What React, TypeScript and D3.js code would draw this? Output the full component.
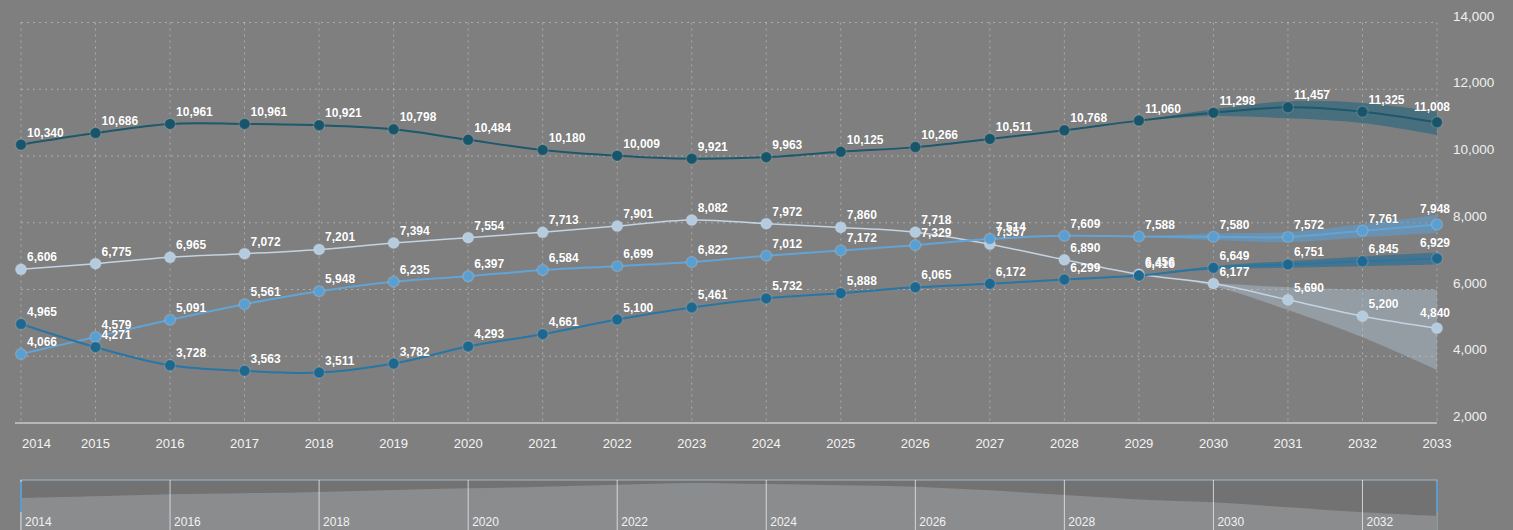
import React from "react";
import * as d3 from "d3";

const years = [2014, 2015, 2016, 2017, 2018, 2019, 2020, 2021, 2022, 2023, 2024, 2025, 2026, 2027, 2028, 2029, 2030, 2031, 2032, 2033];
const seriesA = [10340, 10686, 10961, 10961, 10921, 10798, 10484, 10180, 10009, 9921, 9963, 10125, 10266, 10511, 10768, 11060, 11298, 11457, 11325, 11008];
const seriesB = [6606, 6775, 6965, 7072, 7201, 7394, 7554, 7713, 7901, 8082, 7972, 7860, 7718, 7357, 6890, 6456, 6177, 5690, 5200, 4840];
const seriesC = [4066, 4579, 5091, 5561, 5948, 6235, 6397, 6584, 6699, 6822, 7012, 7172, 7329, 7514, 7609, 7588, 7580, 7572, 7761, 7948];
const seriesD = [4965, 4271, 3728, 3563, 3511, 3782, 4293, 4661, 5100, 5461, 5732, 5888, 6065, 6172, 6299, 6416, 6649, 6751, 6845, 6929];

const bandYears = [2029, 2030, 2031, 2032, 2033];
const bandALow = [11060, 11200, 11130, 10990, 10630];
const bandAHigh = [11060, 11400, 11640, 11590, 11330];
const bandBLow = [6456, 6100, 5385, 4570, 3590];
const bandBHigh = [6456, 6200, 6070, 6000, 5990];
const bandCLow = [7588, 7480, 7420, 7560, 7690];
const bandCHigh = [7588, 7680, 7720, 7960, 8230];
const bandDLow = [6416, 6600, 6650, 6700, 6750];
const bandDHigh = [6416, 6700, 6850, 6990, 7110];

const yTicks = [2000, 4000, 6000, 8000, 10000, 12000, 14000];
const navYears = [2014, 2016, 2018, 2020, 2022, 2024, 2026, 2028, 2030, 2032];

const W = 1513;
const H = 530;

export default function App() {
  const x = d3.scaleLinear().domain([2014, 2033]).range([21, 1437]);
  const y = d3.scaleLinear().domain([2000, 14000]).range([423, 22.5]);
  const navY = d3.scaleLinear().domain([0, 8082]).range([565, 483]);
  const fmt = d3.format(",");

  const line = d3
    .line<[number, number]>()
    .x((d) => x(d[0]))
    .y((d) => y(d[1]))
    .curve(d3.curveCatmullRom.alpha(0.5));

  const band = d3
    .area<[number, number, number]>()
    .x((d) => x(d[0]))
    .y0((d) => y(d[1]))
    .y1((d) => y(d[2]))
    .curve(d3.curveCatmullRom.alpha(0.5));

  const navArea = d3
    .area<[number, number]>()
    .x((d) => x(d[0]))
    .y0(() => H + 10)
    .y1((d) => navY(d[1]))
    .curve(d3.curveCatmullRom.alpha(0.5));

  const series = [
    { name: "B", values: seriesB, line: "#c3d3e2", point: "#b4cbe0", width: 1.5, low: bandBLow, high: bandBHigh, band: "rgba(185,208,230,0.36)" },
    { name: "C", values: seriesC, line: "#62a4d6", point: "#5a9fd2", width: 2, low: bandCLow, high: bandCHigh, band: "rgba(90,160,215,0.55)" },
    { name: "D", values: seriesD, line: "#2776a5", point: "#1e6890", width: 2, low: bandDLow, high: bandDHigh, band: "rgba(30,105,150,0.55)" },
    { name: "A", values: seriesA, line: "#1d586c", point: "#18546a", width: 2, low: bandALow, high: bandAHigh, band: "rgba(35,100,125,0.6)" },
  ];

  const labelFont = "'Liberation Sans', Arial, sans-serif";
  const last = years.length - 1;

  return (
    <svg
      width={W}
      height={H}
      style={{ position: "absolute", left: 0, top: 0, background: "#7f7f7f", display: "block" }}
    >
      <rect x={0} y={0} width={W} height={H} fill="#7f7f7f" />
      {/* grid */}
      <g stroke="rgba(255,255,255,0.36)" strokeWidth={1} strokeDasharray="2,4">
        {years.map((yr) => (
          <line key={"vx" + yr} x1={x(yr)} x2={x(yr)} y1={y(14000)} y2={y(2000)} />
        ))}
        {yTicks.slice(1).map((t) => (
          <line key={"hy" + t} x1={x(2014)} x2={x(2033)} y1={y(t)} y2={y(t)} />
        ))}
      </g>
      <line x1={15} x2={x(2033)} y1={y(2000)} y2={y(2000)} stroke="rgba(235,235,235,0.7)" strokeWidth={1.5} />

      {/* y axis labels */}
      {yTicks.map((t) => (
        <text
          key={"yl" + t}
          x={1453}
          y={y(t) - 2}
          fill="#f0f0f0"
          fontSize={13.5}
          fontFamily={labelFont}
        >
          {fmt(t)}
        </text>
      ))}

      {/* x axis labels */}
      {years.map((yr, i) => (
        <text
          key={"xl" + yr}
          x={i === 0 ? x(yr) + 1 : x(yr)}
          y={448}
          fill="#f4f4f4"
          fontSize={13}
          fontFamily={labelFont}
          textAnchor={i === 0 ? "start" : "middle"}
        >
          {yr}
        </text>
      ))}

      {/* bands */}
      {series.map((s) => (
        <path
          key={"band" + s.name}
          d={band(bandYears.map((yr, i) => [yr, s.low[i], s.high[i]] as [number, number, number])) || ""}
          fill={s.band}
        />
      ))}

      {/* lines */}
      {series.map((s) => (
        <path
          key={"line" + s.name}
          d={line(years.map((yr, i) => [yr, s.values[i]] as [number, number])) || ""}
          fill="none"
          stroke={s.line}
          strokeWidth={s.width}
        />
      ))}

      {/* points */}
      {series.map((s) => (
        <g key={"pts" + s.name}>
          {years.map((yr, i) => (
            <circle
              key={yr}
              cx={x(yr)}
              cy={y(s.values[i])}
              r={5.5}
              fill={s.point}
              stroke="rgba(255,255,255,0.15)"
              strokeWidth={1.5}
            />
          ))}
        </g>
      ))}

      {/* data labels */}
      {series.map((s) => (
        <g key={"lbl" + s.name}>
          {years.map((yr, i) => (
            <text
              key={yr}
              x={i === last ? x(yr) + 13 : x(yr) + 6}
              y={y(s.values[i]) - (i === last ? 11 : 8)}
              textAnchor={i === last ? "end" : "start"}
              fill="#ffffff"
              fontSize={12}
              fontWeight="bold"
              fontFamily={labelFont}
              stroke="rgba(90,90,90,0.35)"
              strokeWidth={0.6}
              paintOrder="stroke"
            >
              {fmt(s.values[i])}
            </text>
          ))}
        </g>
      ))}

      {/* navigator */}
      <g>
        <rect x={x(2014)} y={480} width={x(2033) - x(2014)} height={H - 480 + 5} fill="#727272" stroke="#9bb7cd" strokeWidth={1} />
        <path
          d={navArea(years.map((yr, i) => [yr, seriesB[i]] as [number, number])) || ""}
          fill="#8b8c8e"
        />
        {navYears.map((yr) => (
          <g key={"nv" + yr}>
            <line x1={x(yr)} x2={x(yr)} y1={480} y2={H} stroke="rgba(240,240,240,0.75)" strokeWidth={1} />
            <text x={x(yr) + 4} y={526} fill="#f2f2f2" fontSize={12} fontFamily={labelFont}>
              {yr}
            </text>
          </g>
        ))}
        <line x1={x(2014)} x2={x(2014)} y1={482} y2={512} stroke="#5e9cd0" strokeWidth={2} />
        <line x1={x(2033)} x2={x(2033)} y1={482} y2={512} stroke="#5e9cd0" strokeWidth={2} />
      </g>
    </svg>
  );
}
